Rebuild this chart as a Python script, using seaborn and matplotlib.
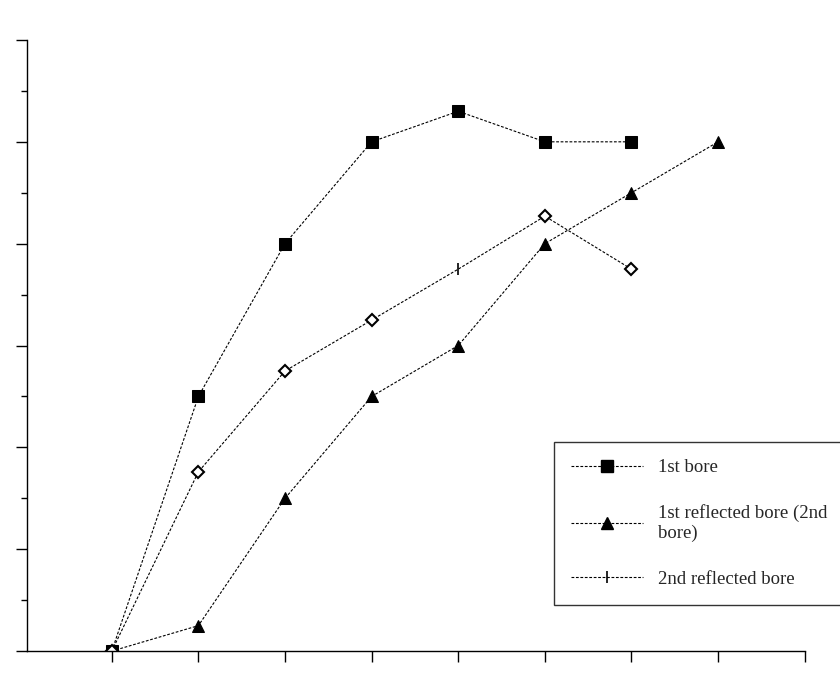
import matplotlib
matplotlib.use("Agg")
import matplotlib.pyplot as plt
import seaborn as sns

sq_x = [0, 1, 2, 3, 4, 5, 6]
sq_y = [0, 2.5, 4.0, 5.0, 5.3, 5.0, 5.0]
tri_x = [0, 1, 2, 3, 4, 5, 6, 7]
tri_y = [0, 0.25, 1.5, 2.5, 3.0, 4.0, 4.5, 5.0]
dia_x = [0, 1, 2, 3, 4, 5, 6]
dia_y = [0, 1.76, 2.75, 3.25, 3.75, 4.27, 3.75]
tick_x = [4]
tick_y = [3.75]

sns.set_style("white")
plt.rcParams['font.family'] = ['Liberation Serif', 'DejaVu Serif']

fig = plt.figure(figsize=(8.4, 6.89), dpi=100)
ax = fig.add_axes([0.032, 0.055, 0.926, 0.887])

ls = (0, (2.5, 1.5))
sns.lineplot(x=sq_x, y=sq_y, ax=ax, color='black', lw=0.8, linestyle=ls,
             marker='s', markersize=9, markerfacecolor='black', markeredgecolor='black',
             legend=False)
sns.lineplot(x=tri_x, y=tri_y, ax=ax, color='black', lw=0.8, linestyle=ls,
             marker='^', markersize=9, markerfacecolor='black', markeredgecolor='black',
             legend=False)
sns.lineplot(x=dia_x, y=dia_y, ax=ax, color='black', lw=0.8, linestyle=ls,
             marker='D', markersize=6, markerfacecolor='white', markeredgecolor='black',
             markeredgewidth=1.5, markevery=[0, 1, 2, 3, 5, 6], legend=False)
ax.plot(tick_x, tick_y, color='black', lw=0, marker='|', markersize=9, markeredgewidth=1.2)

h1, = ax.plot([], [], color='black', lw=0.8, linestyle=ls, marker='s', markersize=9)
h2, = ax.plot([], [], color='black', lw=0.8, linestyle=ls, marker='^', markersize=9)
h3, = ax.plot([], [], color='black', lw=0.8, linestyle=ls, marker='|', markersize=9,
              markeredgewidth=1.2)
labels = ['1st bore', '1st reflected bore (2nd\nbore)', '2nd reflected bore']

ax.set_xlim(-0.98, 8.0)
ax.set_ylim(0, 6.0)
ax.set_xticks(range(0, 9))
ax.set_yticks([0, 1, 2, 3, 4, 5, 6])
ax.set_yticks([0.5, 1.5, 2.5, 3.5, 4.5, 5.5], minor=True)
ax.set_xticklabels([])
ax.set_yticklabels([])
ax.tick_params(axis='both', which='major', direction='out', length=8, width=1, color='black', left=True, bottom=True)
ax.tick_params(axis='y', which='minor', direction='out', length=4, width=1, color='black', left=True)
for s in ['top', 'right']:
    ax.spines[s].set_visible(False)
for s in ['left', 'bottom']:
    ax.spines[s].set_color('black')
    ax.spines[s].set_linewidth(1)

leg = fig.legend([h1, h2, h3], labels, loc='upper left', bbox_to_anchor=(545/840, 1 - 433/689),
                 frameon=True, fancybox=False, edgecolor='black', fontsize=13.5,
                 handlelength=3.8, labelspacing=1.5, borderpad=0.9)
leg.get_frame().set_linewidth(1)
fig.savefig("out.png", dpi=100)
